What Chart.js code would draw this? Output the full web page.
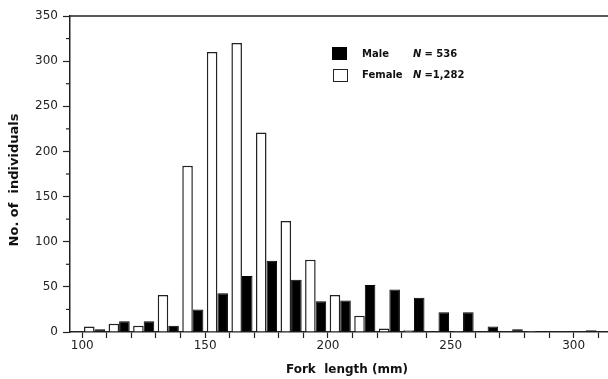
<!DOCTYPE html>
<html>
<head>
<meta charset="utf-8">
<script src="https://cdn.jsdelivr.net/npm/chart.js@4"></script>
<style>
  html, body { margin: 0; padding: 0; background: #fff; overflow: hidden; }
  #wrap { width: 608px; height: 379px; }
</style>
</head>
<body>
<div id="wrap"><canvas id="histChart" width="608" height="379"></canvas></div>
<script>
// fork length bins (centre, mm)
const binCenters = [105, 115, 125, 135, 145, 155, 165, 175, 185, 195, 205, 215, 225, 235, 245, 255, 265, 275, 285, 295, 305];
const femaleCounts = [6, 9, 7, 41, 184, 310, 320, 221, 123, 80, 41, 18, 4, 2, 0, 1, 0, 0, 1, 0, 0];
const maleCounts = [3, 12, 12, 7, 25, 43, 62, 79, 58, 34, 35, 52, 47, 38, 22, 22, 6, 3, 1, 0, 2];
const xTickLabels = [100, 150, 200, 250, 300];
const yTickLabels = [0, 50, 100, 150, 200, 250, 300, 350];

const tickFont = { family: 'DejaVu Sans', size: 12 };

const toPoints = (vals) => vals.map((v, i) => ({ x: binCenters[i], y: v }));

// extra drawing: top frame line, minor y ticks, axis titles, legend
const extras = {
    id: 'extras',
    afterDraw: (chart) => {
        const { ctx, chartArea } = chart;
        const yScale = chart.scales.y;
        ctx.save();
        ctx.strokeStyle = '#222';
        ctx.lineWidth = 1.5;
        ctx.beginPath();
        ctx.moveTo(chartArea.left, chartArea.top);
        ctx.lineTo(chart.width, chartArea.top);
        ctx.stroke();

        // minor ticks on y axis
        ctx.lineWidth = 1.2;
        for (let v = 25; v < 350; v += 50) {
            const py = yScale.getPixelForValue(v);
            ctx.beginPath();
            ctx.moveTo(chartArea.left - 4, py);
            ctx.lineTo(chartArea.left, py);
            ctx.stroke();
        }

        // axis titles
        ctx.fillStyle = '#111';
        ctx.font = 'bold 12px "DejaVu Sans"';
        ctx.textAlign = 'center';
        ctx.textBaseline = 'middle';
        ctx.fillText('Fork  length (mm)', 347, 370);
        ctx.save();
        ctx.translate(15, 180);
        ctx.rotate(-Math.PI / 2);
        ctx.font = 'bold 13px "DejaVu Sans"';
        ctx.fillText('No. of  individuals', 0, 0);
        ctx.restore();

        // legend
        ctx.lineWidth = 1;
        ctx.fillStyle = '#000';
        ctx.fillRect(332, 47, 15, 13);
        ctx.fillStyle = '#fff';
        ctx.strokeStyle = '#222';
        ctx.fillRect(333, 69, 14, 12);
        ctx.strokeRect(333.5, 69.5, 14, 12);
        ctx.fillStyle = '#111';
        ctx.textAlign = 'left';
        ctx.font = 'bold 10px "DejaVu Sans"';
        ctx.fillText('Male', 362, 54);
        ctx.fillText('Female', 362, 75);
        ctx.font = 'italic bold 10px "DejaVu Sans"';
        ctx.fillText('N', 413, 54);
        ctx.fillText('N', 413, 75);
        ctx.font = 'bold 10px "DejaVu Sans"';
        ctx.fillText(' = 536', 421, 54);
        ctx.fillText(' =1,282', 421, 75);
        ctx.restore();
    }
};

const config = {
    type: 'bar',
    data: {
        datasets: [{
            label: 'Female',
            data: toPoints(femaleCounts),
            backgroundColor: '#ffffff',
            borderColor: '#222',
            borderWidth: 1.5,
            categoryPercentage: 0.86,
            barPercentage: 1.0
        }, {
            label: 'Male',
            data: toPoints(maleCounts),
            backgroundColor: '#000000',
            borderColor: '#000',
            borderWidth: 1,
            categoryPercentage: 0.86,
            barPercentage: 1.0
        }]
    },
    options: {
        responsive: false,
        animation: false,
        layout: { padding: { top: 16, right: 0, left: 0, bottom: 0 } },
        plugins: {
            legend: { display: false },
            tooltip: { enabled: false }
        },
        scales: {
            x: {
                type: 'linear',
                offset: false,
                min: 95,
                max: 314,
                afterFit: (scale) => { scale.height = 47; },
                afterBuildTicks: (scale) => {
                    const t = [];
                    for (let v = 100; v <= 310; v += 10) t.push({ value: v });
                    scale.ticks = t;
                },
                grid: { offset: false, drawOnChartArea: false, tickLength: 6, tickColor: '#222', tickWidth: 1.2 },
                border: { color: '#222', width: 1.5 },
                ticks: {
                    color: '#222',
                    font: tickFont,
                    padding: 1,
                    maxRotation: 0,
                    autoSkip: false,
                    callback: (v) => xTickLabels.includes(v) ? String(v) : ''
                }
            },
            y: {
                min: 0,
                max: 350,
                afterFit: (scale) => { scale.width = 70; },
                afterBuildTicks: (scale) => {
                    scale.ticks = yTickLabels.map(v => ({ value: v }));
                },
                grid: { drawOnChartArea: false, tickLength: 7, tickColor: '#222', tickWidth: 1.2 },
                border: { color: '#222', width: 1.5 },
                ticks: {
                    color: '#222',
                    font: tickFont,
                    padding: 5
                }
            }
        }
    },
    plugins: [extras]
};

const ctx = document.getElementById('histChart').getContext('2d');
const histChart = new Chart(ctx, config);
</script>
</body>
</html>
